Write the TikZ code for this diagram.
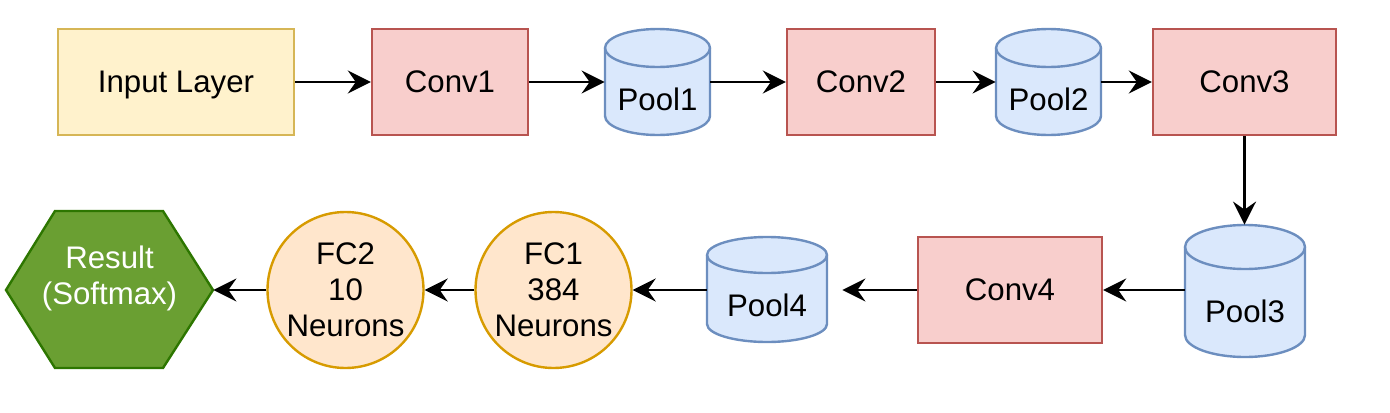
\documentclass[tikz,border=0pt]{standalone}
\usepackage{fontspec}
\setmainfont{Liberation Sans}
\usetikzlibrary{arrows.meta,fit}
\definecolor{yfill}{HTML}{FFF2CC}\definecolor{ydraw}{HTML}{D6B656}
\definecolor{rfill}{HTML}{F8CECC}\definecolor{rdraw}{HTML}{B85450}
\definecolor{bfill}{HTML}{DAE8FC}\definecolor{bdraw}{HTML}{6C8EBF}
\definecolor{ofill}{HTML}{FFE6CC}\definecolor{odraw}{HTML}{D79B00}
\definecolor{gfill}{HTML}{6A9F32}\definecolor{gdraw}{HTML}{2D7600}
% #1 name, #2 x1, #3 y1, #4 x2, #5 y2, #6 ry (px), #7 text
\newcommand\poolnode[7]{%
  \pgfmathsetmacro\prx{(#4-#2)/4}%
  \pgfmathsetmacro\pry{#6/2}%
  \filldraw[poolshape] (#2,#3+#6) -- (#2,#5-#6)
    arc[start angle=180,end angle=360,x radius=\prx pt,y radius=\pry pt]
    -- (#4,#3+#6)
    arc[start angle=0,end angle=180,x radius=\prx pt,y radius=\pry pt] -- cycle;
  \draw[poolshape,fill=none] (#2,#3+#6)
    arc[start angle=180,end angle=360,x radius=\prx pt,y radius=\pry pt];
  \node[inner sep=0pt, fit={(#2,#3)(#4,#5)}] (#1) {};
  \node[inner sep=0pt] (#1-label) at ({(#2+#4)/2},{(#3+2*#6+#5)/2-2}) {#7};
}
\begin{document}
\begin{tikzpicture}[x=0.5pt,y=-0.5pt,
  font=\fontsize{15.6pt}{18pt}\selectfont,
  box/.style={draw, line width=1.2pt, inner sep=0pt, minimum height=53pt, text depth=0pt},
  inputbox/.style={box, fill=yfill, draw=ydraw},
  convbox/.style={box, fill=rfill, draw=rdraw},
  poolshape/.style={fill=bfill, draw=bdraw, line width=1.2pt},
  fcnode/.style={circle, draw=odraw, fill=ofill, line width=1.2pt,
    minimum size=78pt, inner sep=0pt, align=center},
  resultshape/.style={fill=gfill, draw=gdraw, line width=1.2pt},
  conn/.style={line width=1.3pt, -{Stealth[length=11.5pt,width=11.5pt,inset=4pt]}},
]
\useasboundingbox (0,0) rectangle (1390,412);
% top row
\node[inputbox, minimum width=118pt] (input) at (176,82) {Input Layer};
\node[convbox, minimum width=78pt] (conv1) at (450,82) {Conv1};
\poolnode{pool1}{605}{29}{710}{135}{19}{Pool1}
\node[convbox, minimum width=74pt] (conv2) at (861,82) {Conv2};
\poolnode{pool2}{996}{29}{1101}{135}{19}{Pool2}
\node[convbox, minimum width=91.5pt] (conv3) at (1244.5,82) {Conv3};
% bottom row
\poolnode{pool3}{1185}{225}{1305}{357}{22}{Pool3}
\node[convbox, minimum width=92pt] (conv4) at (1010,290) {Conv4};
\poolnode{pool4}{707}{237}{827}{342}{18}{Pool4}
\node[fcnode] (fc1) at (553.5,290) {FC1\\384\\Neurons};
\node[fcnode] (fc2) at (345.5,290) {FC2\\10\\Neurons};
\filldraw[resultshape] (6,290) -- (55,211) -- (163,211) -- (213,290)
  -- (163,368) -- (55,368) -- cycle;
\node[inner sep=0pt, fit={(6,212)(213,368)}, text=white, align=center] (result) {Result\\(Softmax)};
% connectors
\draw[conn] (input) -- (conv1);
\draw[conn] (conv1) -- (pool1);
\draw[conn] (pool1) -- (conv2);
\draw[conn] (conv2) -- (pool2);
\draw[conn] (pool2) -- (conv3);
\draw[conn] (conv3.south) -- (conv3.south |- pool3.north);
\draw[conn] (pool3.west |- conv4.east) -- (conv4.east);
\draw[conn, shorten >=7.5pt] (conv4.west) -- (conv4.west -| pool4.east);
\draw[conn] (pool4.west |- fc1.east) -- (fc1.east);
\draw[conn] (fc1) -- (fc2);
\draw[conn] (fc2.west) -- (fc2.west -| result.east);
\end{tikzpicture}
\end{document}
